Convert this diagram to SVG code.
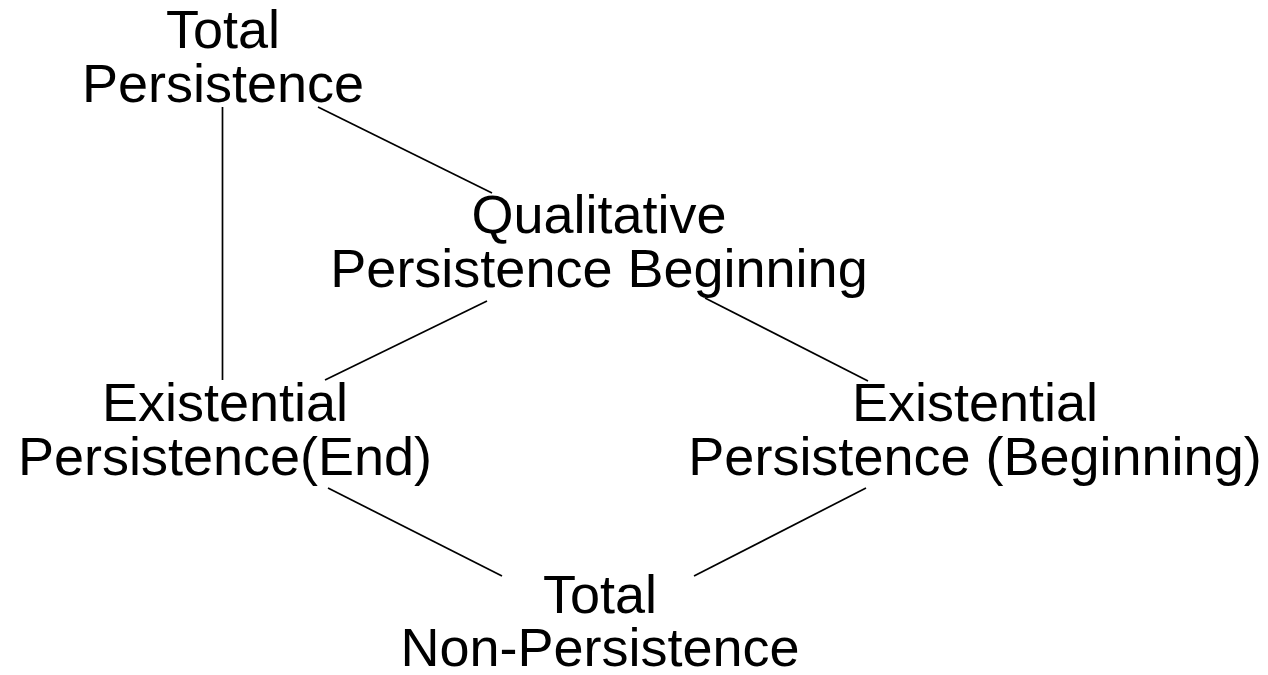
<svg xmlns="http://www.w3.org/2000/svg" width="1268" height="675" viewBox="0 0 1268 675">
  <style>
    .label { font-family: "Liberation Sans", Arial, sans-serif; font-size: 54px; fill: #000; text-anchor: middle; }
    .edge { stroke: #000; stroke-width: 1.7; fill: none; }
  </style>
  <rect width="1268" height="675" fill="#fff"/>

  <!-- connectors -->
  <g id="connectors">
    <line class="edge" x1="222.5" y1="107" x2="222.5" y2="380"/>
    <line class="edge" x1="318" y1="107" x2="492" y2="193"/>
    <line class="edge" x1="487" y1="301" x2="325" y2="380"/>
    <line class="edge" x1="705" y1="298" x2="868" y2="381"/>
    <line class="edge" x1="328" y1="488" x2="502" y2="576"/>
    <line class="edge" x1="866" y1="488" x2="694" y2="576"/>
  </g>

  <!-- nodes -->
  <g id="total-persistence">
    <text class="label" x="223" y="48">Total</text>
    <text class="label" x="223" y="102">Persistence</text>
  </g>
  <g id="qualitative-persistence-beginning">
    <text class="label" x="599" y="233">Qualitative</text>
    <text class="label" x="599" y="287">Persistence Beginning</text>
  </g>
  <g id="existential-persistence-end">
    <text class="label" x="225" y="421">Existential</text>
    <text class="label" x="225" y="475">Persistence(End)</text>
  </g>
  <g id="existential-persistence-beginning">
    <text class="label" x="975" y="421">Existential</text>
    <text class="label" x="975" y="475">Persistence (Beginning)</text>
  </g>
  <g id="total-non-persistence">
    <text class="label" x="600" y="613">Total</text>
    <text class="label" x="600" y="666">Non-Persistence</text>
  </g>
</svg>
